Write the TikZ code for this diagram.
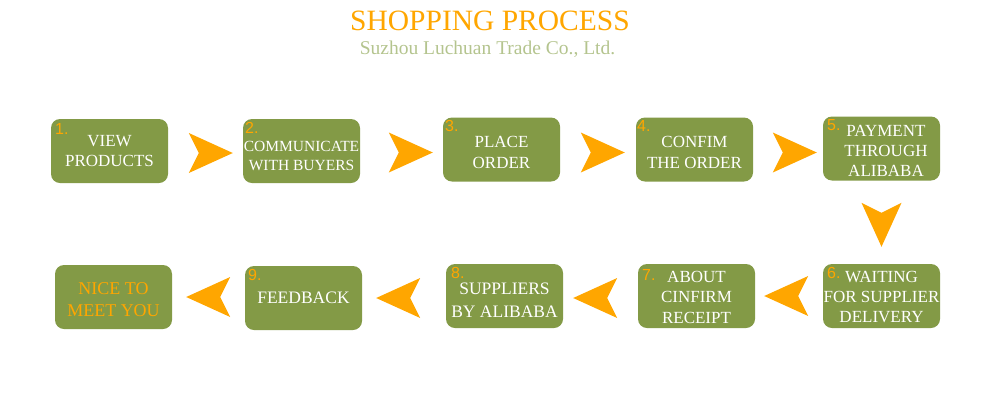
\documentclass[tikz,border=0pt]{standalone}
\usepackage{fontspec}
\setmainfont{Liberation Serif}
\newfontfamily\numfont{Liberation Sans}
\newlength{\du}
\setlength{\du}{1pt}

\begin{document}
\begin{tikzpicture}[
	stepbox/.style={fill=boxgreen, rounded corners=9\du, minimum width=117\du, minimum height=64\du, inner sep=0pt},
	steptext/.style={text=white, align=center, inner sep=0pt, font=\fontsize{17}{20.5}\selectfont},
	stepnum/.style={text=procorange, inner sep=0pt, anchor=north west, font=\numfont\fontsize{16}{16}\selectfont},
	chev/.pic={\fill[procorange] (0\du,0\du) -- (-44\du,-20\du) -- (-34\du,0\du) -- (-44\du,20\du) -- cycle;}
]
	\pgftransformxscale{1.000000}
	\pgftransformyscale{-1.000000}
	\definecolor{boxgreen}{RGB}{131,154,70}
	\definecolor{procorange}{RGB}{255,166,0}
	\definecolor{subgreen}{RGB}{180,196,142}
	\useasboundingbox (0\du,0\du) rectangle (990\du,400\du);
	% title
	\node[anchor=base, text=procorange, font=\fontsize{29.5}{30}\selectfont] (title) at (490\du,30\du){SHOPPING PROCESS};
	\node[anchor=base, text=subgreen, font=\fontsize{19.5}{20}\selectfont] (subtitle) at (487.5\du,54\du){Suzhou Luchuan Trade Co., Ltd.};
	% first row
	\node[stepbox] (s1) at (109.5\du,151\du){};
	\node[stepbox] (s2) at (301.5\du,151\du){};
	\node[stepbox] (s3) at (501.5\du,149.5\du){};
	\node[stepbox] (s4) at (694.5\du,149.5\du){};
	\node[stepbox] (s5) at (881.5\du,148.5\du){};
	% second row
	\node[stepbox] (s6) at (881.5\du,296\du){};
	\node[stepbox] (s7) at (696.5\du,296\du){};
	\node[stepbox] (s8) at (504.5\du,296\du){};
	\node[stepbox] (s9) at (303.5\du,298\du){};
	\node[stepbox] (s10) at (113.5\du,297\du){};
	% setfont left to latex
	\node[steptext] (t1) at (109.5\du,151\du){VIEW\\PRODUCTS};
	\node[steptext, font=\fontsize{15.5}{19}\selectfont] (t2) at (301.5\du,156\du){COMMUNICATE\\WITH BUYERS};
	\node[steptext] (t3) at (501.5\du,152.5\du){PLACE\\ORDER};
	\node[steptext] (t4) at (694.5\du,152.5\du){CONFIM\\THE ORDER};
	\node[steptext, font=\fontsize{17}{20}\selectfont] (t5) at (886\du,150.5\du){PAYMENT\\THROUGH\\ALIBABA};
	\node[steptext, font=\fontsize{17}{20}\selectfont] (t6) at (881.5\du,297\du){WAITING\\FOR SUPPLIER\\DELIVERY};
	\node[steptext, font=\fontsize{17}{20.5}\selectfont] (t7) at (696.5\du,297\du){ABOUT\\CINFIRM\\RECEIPT};
	\node[steptext, font=\fontsize{17.5}{23}\selectfont] (t8) at (504.5\du,300\du){SUPPLIERS\\BY ALIBABA};
	\node[steptext, font=\fontsize{17.5}{20}\selectfont] (t9) at (303.5\du,297.5\du){FEEDBACK};
	\node[steptext, text=procorange, font=\fontsize{18}{22}\selectfont] (t10) at (113.5\du,300\du){NICE TO\\MEET YOU};
	% numbers
	\node[stepnum] (n1) at (55\du,123\du){1.};
	\node[stepnum] (n2) at (245\du,122\du){2.};
	\node[stepnum] (n3) at (445\du,120\du){3.};
	\node[stepnum] (n4) at (637\du,120\du){4.};
	\node[stepnum] (n5) at (827\du,119\du){5.};
	\node[stepnum] (n6) at (827\du,267\du){6.};
	\node[stepnum] (n7) at (642\du,269\du){7.};
	\node[stepnum] (n8) at (451\du,267\du){8.};
	\node[stepnum] (n9) at (248\du,269\du){9.};
	% arrows
	\path (s1.east) -- (s2.west) pic[pos=1, xshift=-10\du, yshift=-2\du] {chev};
	\path (s2.east) -- (s3.west) pic[pos=1, xshift=-10\du, yshift=-3\du] {chev};
	\path (s3.east) -- (s4.west) pic[pos=1, xshift=-11\du, yshift=-3\du] {chev};
	\path (s4.east) -- (s5.west) pic[pos=1, xshift=-6\du, yshift=-4\du] {chev};
	\path (s5.south) -- (s6.north) pic[pos=1, yshift=17\du, rotate=-90] {chev};
	\path (s6.west) -- (s7.east) pic[pos=1, xshift=9\du, rotate=180] {chev};
	\path (s7.west) -- (s8.east) pic[pos=1, xshift=10\du, yshift=-2\du, rotate=180] {chev};
	\path (s8.west) -- (s9.east) pic[pos=1, xshift=14\du, rotate=180] {chev};
	\path (s9.west) -- (s10.east) pic[pos=1, xshift=14\du, rotate=180] {chev};
\end{tikzpicture}
\end{document}
